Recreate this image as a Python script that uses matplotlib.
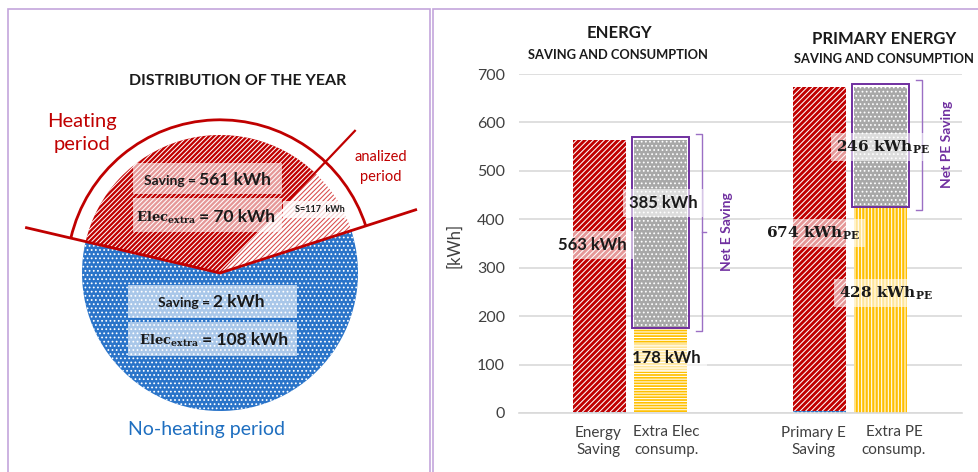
import matplotlib.pyplot as plt
import numpy as np
from matplotlib.patches import Arc, Rectangle

plt.rcParams['font.family'] = ['Lato', 'DejaVu Sans']
plt.rcParams['mathtext.fontset'] = 'dejavuserif'
plt.rcParams['hatch.linewidth'] = 0.75

W, H = 979, 472
RED = '#c00000'
BLUE = '#2a74c9'
PURPLE = '#7030a0'
YELLOW = '#ffc000'
GREY = '#a8a8a8'
TXT = '#1a1a1a'

## data - left: split of the year (days) and energy per period
period_days = [29, 122, 214]        # analized part, rest of heating, no-heating
heat_saving = 561
heat_elec = 70
analized_saving = 117
noheat_saving = 2
noheat_elec = 108

## data - right: energy / primary energy bars
categories = ['Energy\nSaving', 'Extra Elec\nconsump.', 'Primary E\nSaving', 'Extra PE\nconsump.']
saving_noheat = [2, 5]
saving_heat = [561, 669]
extra_cons = [178, 428]
net_saving = [385, 246]
units = ['kWh', r'kWh$_{\mathbf{PE}}$']
net_names = ['Net E Saving', 'Net PE Saving']


def fpos(x, y):
    return x / W, 1 - y / H


def pxbox(x0, y0, x1, y1, alpha=0.6):
    fig.add_artist(Rectangle((x0 / W, 1 - y1 / H), (x1 - x0) / W, (y1 - y0) / H,
                             transform=fig.transFigure, fc='white', ec='none',
                             alpha=alpha, zorder=3))


fig = plt.figure(figsize=(W / 100, H / 100), dpi=100)

# panel frames
for x0, x1 in [(8, 430), (433, 995)]:
    fig.add_artist(Rectangle((x0 / W, 1 - 490 / H), (x1 - x0) / W, (490 - 9) / H,
                             transform=fig.transFigure, fill=False,
                             ec='#c3a5dc', lw=1.2, zorder=1))

## left panel - pie of the year
cx, cy, R, half = 220, 273, 138, 210
axp = fig.add_axes([(cx - half) / W, 1 - (cy + half) / H, 2 * half / W, 2 * half / H])
wedges, _ = axp.pie(period_days, startangle=17.9, counterclock=True,
                    colors=['white', RED, BLUE], wedgeprops=dict(linewidth=0))
wedges[0].set(hatch='/' * 7, edgecolor='#d84a4a')
wedges[1].set(hatch='/' * 7, edgecolor='white')
wedges[2].set(hatch='....', edgecolor='white')
axp.set_xlim(-half / R, half / R)
axp.set_ylim(-half / R, half / R)
axp.axis('off')

ang = 17.9 + np.cumsum([0] + period_days) / sum(period_days) * 360
a0, a1, a2 = np.radians(ang[:3])
axp.plot([1.49 * np.cos(a0), 0, 1.44 * np.cos(a2)],
         [1.49 * np.sin(a0), 0, 1.44 * np.sin(a2)], color=RED, lw=2, zorder=5)
axp.plot([0.62 * np.cos(a1), 1.42 * np.cos(a1)],
         [0.62 * np.sin(a1), 1.42 * np.sin(a1)], color=RED, lw=1.6, zorder=5)
axp.add_patch(Arc((0, 0), 2.22, 2.22, theta1=ang[0], theta2=ang[2], color=RED, lw=2, zorder=5))

fig.text(*fpos(238, 81), 'DISTRIBUTION OF THE YEAR', ha='center', va='center',
         fontsize=11.5, fontweight='bold', color=TXT)
fig.text(*fpos(82, 133), 'Heating\nperiod', ha='center', va='center', fontsize=14.5,
         color=RED, linespacing=1.45)
fig.text(*fpos(381, 167), 'analized\nperiod', ha='center', va='center', fontsize=10.5,
         color=RED, linespacing=1.5)
fig.text(*fpos(207, 429), 'No-heating period', ha='center', va='center', fontsize=14,
         color='#1f6fc0')

# value boxes on the pie
pxbox(133, 163, 282, 194)
pxbox(133, 198, 282, 232)
pxbox(283, 201, 350, 218, 0.75)
pxbox(128, 285, 297, 318)
pxbox(128, 322, 297, 356)

rows = [(198, 185, 'Saving =', f'{heat_saving} kWh', False),
        (198, 222, r'$\mathbf{Elec_{extra}}$', f'= {heat_elec} kWh', True),
        (212, 307, 'Saving =', f'{noheat_saving} kWh', False),
        (201, 345, r'$\mathbf{Elec_{extra}}$', f'= {noheat_elec} kWh', True)]
for xs_, yb, left, right, is_math in rows:
    fig.text(*fpos(xs_ - 2, yb), left, ha='right', va='baseline',
             fontsize=9.5 if is_math else 10, fontweight='bold', color=TXT, zorder=4)
    fig.text(*fpos(xs_ + 1, yb), right, ha='left', va='baseline',
             fontsize=12.5, fontweight='bold', color=TXT, zorder=4)
fig.text(*fpos(320, 210), f'S={analized_saving}  kWh', ha='center', va='center',
         fontsize=6.5, fontweight='bold', color=TXT, zorder=4)

## right panel - stacked bars
ax = fig.add_axes([519 / W, 1 - 413 / H, 443 / W, 339 / H])
groups = np.arange(2)
off, bw = 0.14, 0.24
xs = groups - off
xe = groups + off

ax.bar(xs, saving_noheat, bw, color=BLUE, edgecolor='white', hatch='....', lw=0)
ax.bar(xs, saving_heat, bw, bottom=saving_noheat, color=RED, edgecolor='white',
       hatch='/' * 6, lw=0)
ax.bar(xe[0], extra_cons[0], bw, color=YELLOW, edgecolor='white', hatch='-' * 6, lw=0)
ax.bar(xe[1], extra_cons[1], bw, color=YELLOW, edgecolor='white', hatch='|' * 5, lw=0)
ax.bar(xe, net_saving, bw, bottom=extra_cons, color=GREY, edgecolor='white',
       hatch='....', lw=0)
ax.bar(xe, np.array(net_saving) + 8, bw + 0.02, bottom=np.array(extra_cons) - 2,
       fill=False, edgecolor=PURPLE, lw=1.4, zorder=4)

ax.set_ylim(0, 700)
ax.set_xlim(-0.505, 1.509)
ax.set_yticks(range(0, 701, 100))
# label centres sit a little apart from the bar centres, as in the original
ax.set_xticks([-0.145, 0.164, 0.832, 1.2])
ax.set_xticklabels(categories, linespacing=1.35)
ax.tick_params(length=0, labelsize=11.5, colors='#404040')
ax.tick_params(axis='x', labelsize=11)
ax.tick_params(axis='y', pad=10)
ax.tick_params(axis='x', pad=9)
ax.grid(axis='y', color='#d9d9d9', lw=1.2)
ax.set_axisbelow(True)
for s in ['left', 'right', 'top']:
    ax.spines[s].set_visible(False)
ax.spines['bottom'].set_color('#d9d9d9')
ax.spines['bottom'].set_linewidth(1.2)
ax.set_ylabel('[kWh]', fontsize=12, color='#404040')
ax.yaxis.set_label_coords((462 - 519) / 443, (413 - 245) / 339)

fig.text(*fpos(619, 33), 'ENERGY', ha='center', va='center', fontsize=12,
         fontweight='bold', color=TXT)
fig.text(*fpos(618, 55), 'SAVING AND CONSUMPTION', ha='center', va='center',
         fontsize=9.3, fontweight='bold', color=TXT)
fig.text(*fpos(884, 39), 'PRIMARY ENERGY', ha='center', va='center', fontsize=12,
         fontweight='bold', color=TXT)
fig.text(*fpos(884, 59), 'SAVING AND CONSUMPTION', ha='center', va='center',
         fontsize=9.3, fontweight='bold', color=TXT)

# value labels
box = dict(boxstyle='square,pad=0.35', fc='white', alpha=0.6, ec='none')
total_y = [347, 372]
net_y = [434, 549]
extra_y = [114, 248]
for i in range(2):
    kw = dict(ha='center', va='center', fontweight='bold', color=TXT, bbox=box,
              zorder=6, fontsize=11 if i else 12)
    if i:
        kw['family'] = 'DejaVu Serif'
    total = saving_noheat[i] + saving_heat[i]
    ax.text(xs[i] - 0.03, total_y[i], f'{total} {units[i]}', **kw)
    ax.text(xe[i] + 0.01, net_y[i], f'{net_saving[i]} {units[i]}', **kw)
    ax.text(xe[i] + 0.025, extra_y[i], f'{extra_cons[i]} {units[i]}', **kw)

    # bracket for net saving
    y0 = extra_cons[i] - 8
    y1 = extra_cons[i] + net_saving[i] + 14
    ym = (y0 + y1) / 2
    xb = xe[i] + 0.185
    ax.plot([xb - 0.025, xb, xb, xb - 0.025], [y0, y0, y1, y1], color='#9b6fc4',
            lw=1, clip_on=False)
    ax.plot([xb, xb + 0.02], [ym, ym], color='#9b6fc4', lw=1, clip_on=False)
    ax.text(xe[i] + 0.30, ym, net_names[i], rotation=90, ha='center', va='center',
            fontsize=10, fontweight='bold', color=PURPLE)

fig.savefig('out.png', dpi=100)
